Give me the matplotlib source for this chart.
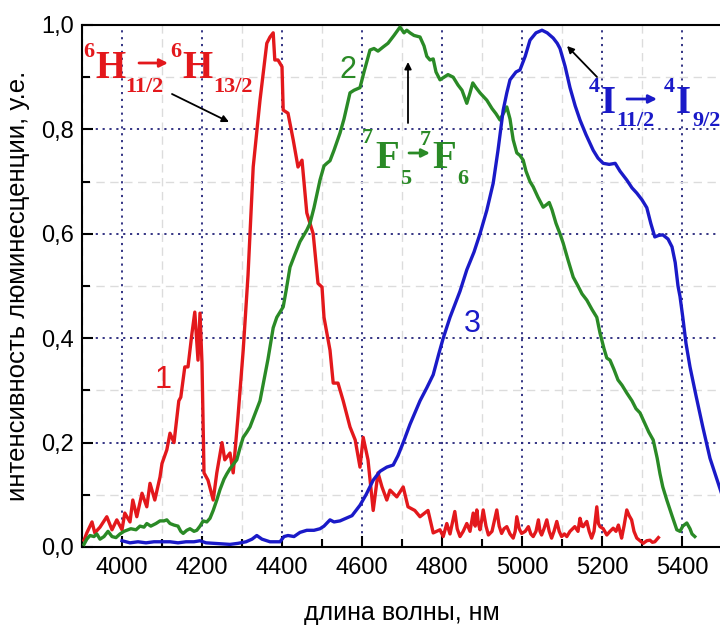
import matplotlib
matplotlib.use("Agg")
import matplotlib.pyplot as plt
from matplotlib.ticker import MultipleLocator, FuncFormatter

# spectrum 1 (red)
x1 = [3905, 3912, 3925, 3932, 3945, 3962, 3975, 3987, 4000, 4007, 4020, 4027, 4037, 4050,
      4062, 4070, 4082, 4095, 4100, 4112, 4120, 4130, 4142, 4147, 4157, 4165, 4175, 4182,
      4190, 4195, 4200, 4205, 4215, 4228, 4237, 4250, 4257, 4270, 4278, 4290, 4303, 4315,
      4328, 4345, 4353, 4362, 4370, 4378, 4382, 4390, 4400, 4403, 4415, 4428, 4440, 4450,
      4462, 4478, 4490, 4500, 4505, 4520, 4528, 4540, 4553, 4570, 4583, 4595, 4603, 4615,
      4628, 4640, 4650, 4662, 4670, 4687, 4703, 4715, 4732, 4745, 4765, 4778, 4795,
      4803, 4812, 4820, 4832, 4838, 4845, 4853, 4862, 4870, 4878, 4883, 4887, 4891, 4895,
      4899, 4903, 4910, 4916, 4925, 4937, 4943, 4949, 4955, 4962, 4970, 4978, 4983, 4987,
      4993, 4999, 5008, 5016, 5022, 5028, 5035, 5041, 5045, 5049, 5055, 5062, 5068, 5074,
      5080, 5087, 5093, 5099, 5106, 5112, 5120, 5132, 5140, 5145, 5150, 5153, 5158, 5162,
      5168, 5174, 5180, 5187, 5191, 5195, 5203, 5212, 5220, 5228, 5235, 5241, 5245, 5249,
      5255, 5262, 5268, 5274, 5280, 5287, 5295, 5303, 5312, 5320, 5326, 5332, 5341]
y1 = [0.013, 0.027, 0.048, 0.027, 0.038, 0.058, 0.033, 0.052, 0.033, 0.065, 0.048, 0.090,
      0.058, 0.103, 0.077, 0.122, 0.090, 0.134, 0.160, 0.186, 0.218, 0.200, 0.280, 0.287,
      0.345, 0.345, 0.410, 0.450, 0.358, 0.448, 0.352, 0.142, 0.128, 0.090, 0.142, 0.200,
      0.167, 0.180, 0.142, 0.250, 0.377, 0.520, 0.728, 0.856, 0.908, 0.965, 0.977, 0.985,
      0.933, 0.933, 0.920, 0.837, 0.831, 0.780, 0.728, 0.741, 0.640, 0.600, 0.505, 0.498,
      0.440, 0.377, 0.314, 0.314, 0.280, 0.230, 0.205, 0.153, 0.210, 0.167, 0.070, 0.142,
      0.115, 0.090, 0.109, 0.096, 0.115, 0.077, 0.070, 0.058, 0.070, 0.027, 0.033,
      0.020, 0.045, 0.025, 0.068, 0.035, 0.020, 0.030, 0.045, 0.030, 0.065, 0.040, 0.071,
      0.045, 0.033, 0.050, 0.071, 0.040, 0.023, 0.030, 0.071, 0.040, 0.026, 0.035, 0.039,
      0.025, 0.017, 0.030, 0.058, 0.035, 0.026, 0.030, 0.039, 0.025, 0.020, 0.030, 0.052,
      0.030, 0.023, 0.035, 0.052, 0.030, 0.017, 0.030, 0.049, 0.030, 0.020, 0.025, 0.020,
      0.030, 0.039, 0.030, 0.055, 0.040, 0.039, 0.045, 0.049, 0.030, 0.017, 0.030, 0.077,
      0.045, 0.039, 0.035, 0.023, 0.030, 0.036, 0.030, 0.042, 0.030, 0.017, 0.040, 0.071,
      0.060, 0.052, 0.030, 0.017, 0.012, 0.007, 0.012, 0.013, 0.009, 0.010, 0.018]

# spectrum 2 (green)
x2 = [3905, 3912, 3920, 3930, 3937, 3945, 3955, 3965, 3975, 3985, 3995, 4005, 4012, 4022,
      4035, 4045, 4055, 4062, 4072, 4085, 4095, 4105, 4112, 4120, 4130, 4140, 4147, 4153,
      4162, 4170, 4180, 4187, 4195, 4203, 4212, 4220, 4228, 4237, 4245, 4255, 4262, 4270,
      4280, 4287, 4295, 4303, 4312, 4320, 4330, 4345, 4355, 4365, 4378, 4387, 4395, 4403,
      4410, 4420, 4432, 4445, 4462, 4470, 4480, 4495, 4505, 4512, 4520, 4530, 4545, 4555,
      4570, 4580, 4595, 4605, 4620, 4630, 4640, 4653, 4665, 4680, 4695, 4705, 4712, 4720,
      4730, 4745, 4755, 4762, 4770, 4778, 4785, 4795, 4805, 4815, 4828, 4840, 4850, 4862,
      4870, 4877, 4885, 4895, 4912, 4925, 4935, 4945, 4953, 4962, 4970, 4978, 4987, 4995,
      5003, 5010, 5020, 5028, 5040, 5053, 5060, 5068, 5075, 5085, 5095, 5103, 5115, 5128,
      5140, 5150, 5162, 5175, 5187, 5195, 5205, 5212, 5220, 5230, 5240, 5250, 5262, 5275,
      5285, 5295, 5305, 5317, 5328, 5338, 5345, 5352, 5362, 5375, 5387, 5395, 5402, 5412,
      5420, 5425, 5432]
y2 = [0.005, 0.015, 0.022, 0.020, 0.025, 0.015, 0.020, 0.030, 0.020, 0.018, 0.025, 0.030,
      0.032, 0.035, 0.033, 0.040, 0.038, 0.045, 0.040, 0.045, 0.050, 0.050, 0.052, 0.045,
      0.042, 0.040, 0.030, 0.026, 0.032, 0.035, 0.030, 0.032, 0.040, 0.050, 0.048, 0.055,
      0.070, 0.090, 0.110, 0.130, 0.140, 0.150, 0.160, 0.167, 0.190, 0.210, 0.220, 0.230,
      0.250, 0.280, 0.320, 0.360, 0.420, 0.440, 0.450, 0.460, 0.490, 0.536, 0.560, 0.585,
      0.607, 0.620, 0.650, 0.703, 0.730, 0.735, 0.740, 0.760, 0.793, 0.820, 0.870, 0.875,
      0.880, 0.910, 0.952, 0.955, 0.950, 0.958, 0.965, 0.980, 0.996, 0.985, 0.990, 0.985,
      0.980, 0.977, 0.960, 0.940, 0.933, 0.935, 0.910, 0.895, 0.900, 0.905, 0.900, 0.885,
      0.875, 0.850, 0.870, 0.889, 0.880, 0.870, 0.856, 0.840, 0.830, 0.818, 0.830, 0.843,
      0.820, 0.780, 0.755, 0.750, 0.741, 0.720, 0.700, 0.690, 0.670, 0.651, 0.655, 0.660,
      0.646, 0.620, 0.600, 0.582, 0.550, 0.517, 0.500, 0.485, 0.473, 0.455, 0.440, 0.410,
      0.380, 0.362, 0.358, 0.340, 0.320, 0.310, 0.295, 0.280, 0.265, 0.257, 0.240, 0.220,
      0.205, 0.170, 0.140, 0.115, 0.090, 0.060, 0.033, 0.030, 0.040, 0.046, 0.035, 0.025,
      0.020]

# spectrum 3 (blue)
x3 = [4000, 4020, 4040, 4060, 4080, 4100, 4120, 4140, 4160, 4180, 4195, 4210, 4230, 4250,
      4270, 4290, 4310, 4325, 4337, 4350, 4370, 4385, 4395, 4405, 4415, 4430, 4445, 4462,
      4480, 4495, 4505, 4520, 4530, 4545, 4560, 4575, 4585, 4595, 4610, 4628, 4645, 4662,
      4678, 4690, 4703, 4720, 4745, 4762, 4778, 4792, 4803, 4820, 4845, 4862, 4880, 4895,
      4912, 4928, 4940, 4953, 4962, 4970, 4985, 4995, 5008, 5020, 5035, 5050, 5063, 5078,
      5088, 5095, 5108, 5120, 5133, 5145, 5160, 5178, 5190, 5203, 5218, 5233, 5245, 5262,
      5275, 5287, 5300, 5312, 5322, 5332, 5342, 5352, 5365, 5375, 5383, 5390, 5395, 5402,
      5410, 5420, 5435, 5452, 5470, 5485, 5500]
y3 = [0.012, 0.008, 0.010, 0.008, 0.010, 0.010, 0.010, 0.008, 0.010, 0.010, 0.012, 0.008,
      0.007, 0.006, 0.005, 0.007, 0.010, 0.015, 0.022, 0.015, 0.010, 0.010, 0.010, 0.020,
      0.022, 0.020, 0.028, 0.032, 0.032, 0.035, 0.040, 0.052, 0.048, 0.050, 0.055, 0.060,
      0.070, 0.080, 0.100, 0.128, 0.145, 0.153, 0.157, 0.175, 0.200, 0.235, 0.280, 0.305,
      0.330, 0.370, 0.400, 0.440, 0.490, 0.531, 0.565, 0.600, 0.645, 0.697, 0.760, 0.837,
      0.870, 0.895, 0.910, 0.914, 0.940, 0.971, 0.985, 0.990, 0.985, 0.975, 0.965, 0.955,
      0.920, 0.880, 0.845, 0.818, 0.790, 0.760, 0.745, 0.735, 0.733, 0.735, 0.720, 0.703,
      0.688, 0.678, 0.665, 0.650, 0.620, 0.594, 0.597, 0.598, 0.590, 0.575, 0.545, 0.500,
      0.480, 0.440, 0.390, 0.345, 0.290, 0.230, 0.170, 0.135, 0.100]

red = "#e3181c"
green = "#2a8a26"
blue = "#1a1ac8"
navy = "#24247a"

fig = plt.figure(figsize=(7.2, 6.28), dpi=100)
ax = fig.add_axes([82 / 720, 1 - 547 / 628, 640 / 720, 522 / 628])

ax.plot(x1, y1, color=red, lw=2.4, zorder=3)
ax.plot(x2, y2, color=green, lw=2.4, zorder=3)
ax.plot(x3, y3, color=blue, lw=2.4, zorder=3)

ax.set_xlim(3900, 5500)
ax.set_ylim(0, 1.0)
ax.xaxis.set_major_locator(MultipleLocator(200))
ax.xaxis.set_minor_locator(MultipleLocator(100))
ax.yaxis.set_major_locator(MultipleLocator(0.2))
ax.yaxis.set_minor_locator(MultipleLocator(0.1))
ax.yaxis.set_major_formatter(FuncFormatter(lambda v, p: f"{v:.1f}".replace(".", ",")))
ax.xaxis.set_major_formatter(FuncFormatter(lambda v, p: f"{v:.0f}"))

ax.grid(which="major", color=navy, linestyle=(0, (1.2, 2.6)), lw=1.3)
ax.grid(which="minor", color="#dcdcdc", linestyle=(0, (6, 4)), lw=1.0)
ax.set_axisbelow(True)

ax.tick_params(which="both", direction="in", width=1.5, labelsize=17,
               top=False, right=False)
ax.tick_params(which="major", length=8)
ax.tick_params(which="minor", length=6)
ax.tick_params(axis="x", pad=7)
ax.tick_params(axis="y", pad=6)
for s in ax.spines.values():
    s.set_linewidth(1.5)

for lbl in ax.get_xticklabels() + ax.get_yticklabels():
    lbl.set_fontfamily("Liberation Sans")

ax.set_xlabel("длина волны, нм", fontsize=18, family="Liberation Sans", labelpad=16)
ax.set_ylabel("интенсивность люминесценции, у.е.", fontsize=18.5,
              family="Liberation Sans", labelpad=8)

# curve numbers
ax.text(4102, 0.305, "1", color=red, fontsize=22, ha="center", va="baseline",
        family="Liberation Sans")
ax.text(4565, 0.898, "2", color=green, fontsize=22, ha="center", va="baseline",
        family="Liberation Sans")
ax.text(4875, 0.412, "3", color=blue, fontsize=22, ha="center", va="baseline",
        family="Liberation Sans")


def fpos(px, py):
    return (px / 720, 1 - py / 628)


def term(px, py, s, color, size):
    fig.text(*fpos(px, py), s, color=color, fontsize=size, ha="left", va="baseline",
             family="Liberation Serif", weight="bold")


def arrow(p0, p1, color, lw=1.3, head=10):
    ax.annotate("", xy=fpos(*p1), xycoords="figure fraction",
                xytext=fpos(*p0), textcoords="figure fraction",
                arrowprops=dict(arrowstyle="-|>", color=color, lw=lw,
                                mutation_scale=head, shrinkA=0, shrinkB=0))


big, small = 28, 16

# 6H11/2 -> 6H13/2
term(83, 57, "6", red, small)
term(95, 78, "H", red, big)
term(125, 92, "11/2", red, small)
arrow((139, 63), (168, 63), red, lw=2, head=12)
term(170, 57, "6", red, small)
term(182, 78, "H", red, big)
term(213, 92, "13/2", red, small)
arrow((172, 94), (229, 122), "black")

# 7F5 -> 7F6
term(362, 143, "7", green, small)
term(375, 168, "F", green, big)
term(400, 184, "5", green, small)
arrow((409, 153), (430, 153), green, lw=2, head=12)
term(420, 145, "7", green, small)
term(432, 168, "F", green, big)
term(457, 184, "6", green, small)
arrow((408, 123), (408, 62), "black")

# 4I11/2 -> 4I9/2
term(589, 92, "4", blue, small)
term(601, 113, "I", blue, big)
term(616, 126, "11/2", blue, small)
arrow((627, 99), (657, 99), blue, lw=2, head=12)
term(664, 92, "4", blue, small)
term(676, 113, "I", blue, big)
term(692, 126, "9/2", blue, small)
arrow((597, 77), (567, 46), "black")

fig.savefig("out.png", dpi=100)
